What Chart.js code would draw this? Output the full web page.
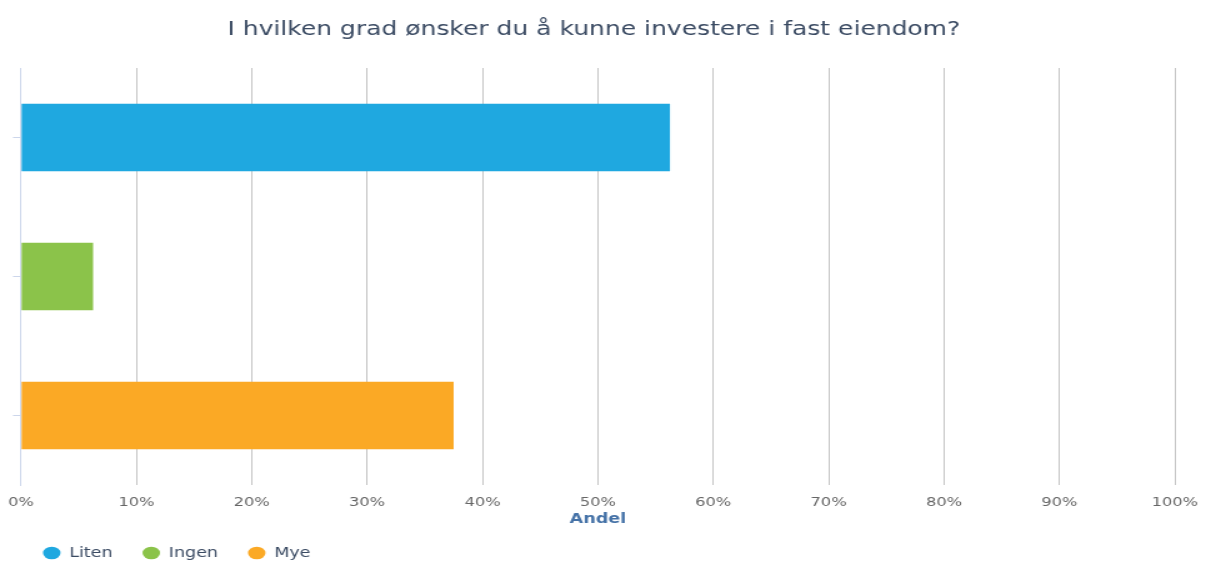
<!DOCTYPE html>
<html>
<head>
<meta charset="utf-8">
<script src="https://cdn.jsdelivr.net/npm/chart.js@4.4.1/dist/chart.umd.min.js"></script>
<style>
  html, body { margin: 0; padding: 0; background: #fff; overflow: hidden; }
  /* the chart is drawn narrower and stretched sideways, like the source image */
  #chart { display: block; width: 1206px !important; height: 563px !important; }
</style>
</head>
<body>
<canvas id="chart" width="965" height="563"></canvas>
<script>
// Chart data
const chartTitle = 'I hvilken grad ønsker du å kunne investere i fast eiendom?';
const categories = ['', '', ''];
const seriesNames = ['Liten', 'Ingen', 'Mye'];
const litenValues = [56.25, null, null];
const ingenValues = [null, 6.25, null];
const myeValues = [null, null, 37.5];
const seriesColors = ['#1fa8e0', '#8bc34a', '#fba925'];
const axisTitle = 'Andel';

Chart.defaults.font.family = 'DejaVu Sans, Verdana, sans-serif';

const ctx = document.getElementById('chart').getContext('2d');
const seriesValues = [litenValues, ingenValues, myeValues];

window.myChart = new Chart(ctx, {
    type: 'bar',
    data: {
        labels: categories,
        datasets: seriesNames.map((name, i) => ({
            label: name,
            data: seriesValues[i],
            backgroundColor: seriesColors[i],
            borderWidth: 0,
            categoryPercentage: 0.484,
            barPercentage: 1
        }))
    },
    options: {
        indexAxis: 'y',
        responsive: false,
        animation: false,
        layout: { padding: { left: 10.4, right: 25, top: 18, bottom: -7 } },
        plugins: {
            title: {
                display: true,
                text: chartTitle,
                color: '#3b4b63',
                font: { size: 20, weight: 'normal' },
                padding: { top: 0, bottom: 26 }
            },
            legend: {
                position: 'bottom',
                align: 'start',
                labels: {
                    usePointStyle: true,
                    pointStyle: 'circle',
                    pointStyleWidth: 14,
                    boxHeight: 9,
                    padding: 24,
                    color: '#3b4b63',
                    font: { size: 14 }
                }
            },
            tooltip: { enabled: false }
        },
        scales: {
            x: {
                min: 0,
                max: 100,
                ticks: {
                    stepSize: 10,
                    color: '#666666',
                    font: { size: 13 },
                    padding: 6,
                    callback: v => v + '%'
                },
                // invisible tick marks just push the labels down a little
                grid: { color: '#c4c4c4', drawTicks: true, tickLength: 4, tickColor: 'rgba(0,0,0,0)' },
                border: { display: false },
                title: {
                    display: true,
                    text: axisTitle,
                    color: '#4572a7',
                    font: { size: 14, weight: 'bold' },
                    padding: { top: -6, bottom: -5.4 }
                }
            },
            y: {
                stacked: true,
                ticks: { padding: 0 },
                grid: {
                    offset: false,
                    drawOnChartArea: false,
                    tickLength: 6.4,
                    color: '#ccd6eb'
                },
                border: { display: true, color: '#ccd6eb', width: 1 }
            }
        }
    }
});
</script>
</body>
</html>
